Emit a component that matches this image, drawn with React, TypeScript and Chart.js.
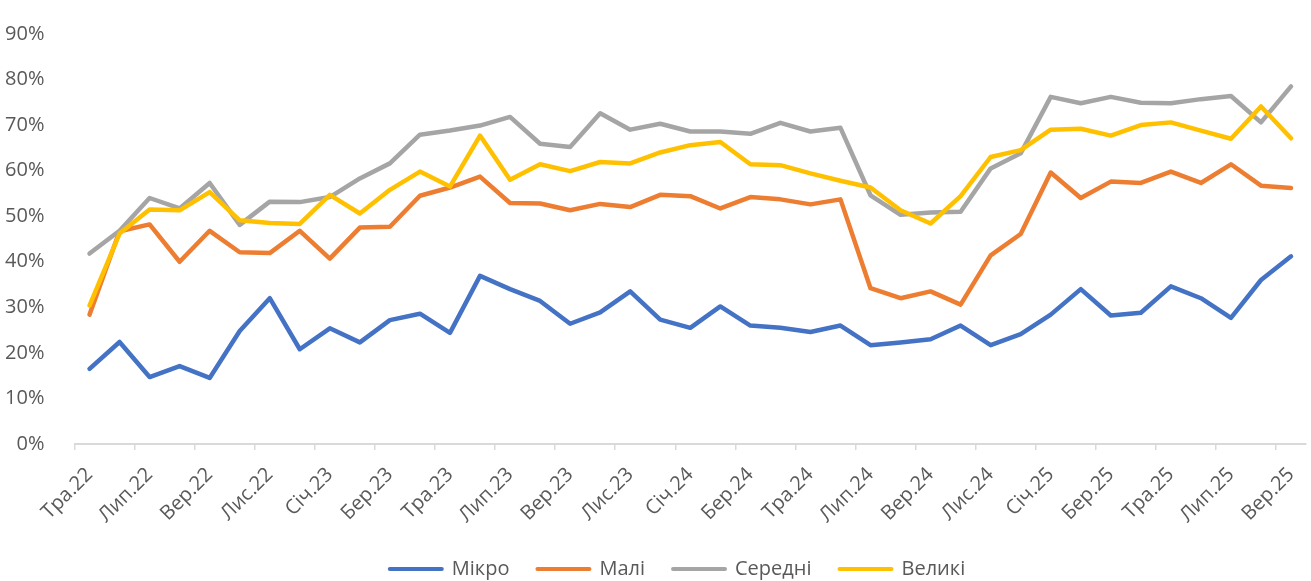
import { useEffect, useRef } from 'react';
import { Chart, registerables } from 'chart.js';

Chart.register(...registerables);

const months = [
  'Тра.22', 'Чер.22', 'Лип.22', 'Сер.22', 'Вер.22', 'Жов.22', 'Лис.22', 'Гру.22',
  'Січ.23', 'Лют.23', 'Бер.23', 'Кві.23', 'Тра.23', 'Чер.23', 'Лип.23', 'Сер.23', 'Вер.23', 'Жов.23', 'Лис.23', 'Гру.23',
  'Січ.24', 'Лют.24', 'Бер.24', 'Кві.24', 'Тра.24', 'Чер.24', 'Лип.24', 'Сер.24', 'Вер.24', 'Жов.24', 'Лис.24', 'Гру.24',
  'Січ.25', 'Лют.25', 'Бер.25', 'Кві.25', 'Тра.25', 'Чер.25', 'Лип.25', 'Сер.25', 'Вер.25',
];

const mikro = [16.5, 22.4, 14.7, 17.1, 14.5, 24.8, 32.0, 20.8, 25.4, 22.3, 27.2, 28.6, 24.4, 36.9, 34.0, 31.4, 26.4, 28.9, 33.5, 27.3, 25.5, 30.2, 26.0, 25.5, 24.6, 26.0, 21.7, 22.3, 23.0, 26.0, 21.7, 24.1, 28.4, 34.0, 28.2, 28.8, 34.6, 32.0, 27.7, 36.0, 41.2];
const mali = [28.4, 46.7, 48.2, 40.0, 46.8, 42.1, 41.9, 46.8, 40.7, 47.5, 47.7, 54.5, 56.3, 58.7, 52.9, 52.8, 51.3, 52.7, 52.0, 54.7, 54.4, 51.7, 54.2, 53.7, 52.6, 53.7, 34.2, 32.0, 33.5, 30.6, 41.4, 46.1, 59.6, 54.0, 57.6, 57.3, 59.8, 57.3, 61.4, 56.7, 56.2];
const seredni = [41.8, 46.8, 54.0, 51.7, 57.3, 48.1, 53.2, 53.1, 54.2, 58.3, 61.6, 67.9, 68.8, 69.9, 71.8, 65.9, 65.2, 72.6, 69.0, 70.3, 68.6, 68.6, 68.1, 70.5, 68.6, 69.4, 54.6, 50.3, 50.8, 51.0, 60.5, 63.8, 76.2, 74.8, 76.2, 74.9, 74.8, 75.7, 76.4, 70.6, 78.5];
const velyki = [30.4, 46.2, 51.5, 51.3, 55.3, 49.1, 48.5, 48.3, 54.7, 50.6, 55.8, 59.8, 56.5, 67.7, 58.0, 61.4, 59.9, 61.9, 61.6, 64.0, 65.6, 66.3, 61.4, 61.2, 59.4, 57.8, 56.3, 51.3, 48.4, 54.4, 63.0, 64.5, 69.0, 69.2, 67.7, 70.0, 70.6, 68.8, 67.0, 74.1, 67.1];

const seriesNames = ['Мікро', 'Малі', 'Середні', 'Великі'];
const seriesColors = ['#4472C4', '#ED7D31', '#A5A5A5', '#FFC000'];
const seriesValues = [mikro, mali, seredni, velyki];

const yMin = 0;
const yMax = 90;
const yStep = 10;

const legendShift = {
  id: 'legendShift',
  afterLayout(chart: any) {
    if (chart.legend) {
      chart.legend.left += 34;
    }
  },
};

export default function App() {
  const ref = useRef<HTMLCanvasElement>(null);

  useEffect(() => {
    Chart.defaults.font.family = "'Open Sans', sans-serif";
    Chart.defaults.font.size = 20;
    Chart.defaults.color = '#595959';

    const chart = new Chart(ref.current as HTMLCanvasElement, {
      type: 'line',
      data: {
        labels: months,
        datasets: seriesNames.map((name, i) => ({
          label: name,
          data: seriesValues[i],
          borderColor: seriesColors[i],
          backgroundColor: seriesColors[i],
          borderWidth: 4.5,
          borderJoinStyle: 'round' as const,
          borderCapStyle: 'round' as const,
          pointRadius: 0,
          pointHoverRadius: 0,
          tension: 0,
          order: seriesNames.length - 1 - i,
        })),
      },
      plugins: [legendShift],
      options: {
        responsive: false,
        animation: false,
        events: [],
        layout: { padding: { left: 0, right: 0, top: 26, bottom: 0 } },
        plugins: {
          tooltip: { enabled: false },
          legend: {
            position: 'bottom',
            labels: {
              usePointStyle: true,
              pointStyle: 'line',
              pointStyleWidth: 52,
              padding: 28,
              color: '#595959',
              font: { size: 20 },
              sort: (a: any, b: any) => a.datasetIndex - b.datasetIndex,
              generateLabels: (c: any) =>
                (Chart.defaults.plugins.legend.labels as any)
                  .generateLabels(c)
                  .map((l: any) => ({ ...l, lineWidth: 4, lineCap: 'round' })),
            },
          },
        },
        scales: {
          x: {
            offset: true,
            grid: {
              display: true,
              drawOnChartArea: false,
              drawTicks: true,
              tickLength: 6,
              offset: true,
              lineWidth: 1.5,
              color: (ctx: any) => (ctx.index % 2 === 0 ? '#D9D9D9' : 'rgba(0,0,0,0)'),
            },
            border: { display: true, color: '#D9D9D9', width: 2 },
            ticks: {
              autoSkip: false,
              maxRotation: 45,
              minRotation: 45,
              padding: 13,
              color: '#595959',
              font: { size: 20 },
              callback: (_v: any, i: number) => (i % 2 === 0 ? months[i] : ''),
            },
            afterFit: (s: any) => {
              s.height = 87;
            },
          },
          y: {
            min: yMin,
            max: yMax,
            grid: { display: false },
            border: { display: false },
            ticks: {
              stepSize: yStep,
              padding: 22,
              color: '#595959',
              font: { size: 20 },
              callback: (v: any) => `${v}%`,
            },
            afterFit: (s: any) => {
              s.width = 74.5;
            },
          },
        },
      },
    });
    return () => chart.destroy();
  }, []);

  return (
    <div style={{ position: 'absolute', left: 0, top: 0, width: 1311, height: 581, overflow: 'hidden', background: '#fff' }}>
      <canvas ref={ref} width={1321} height={589} style={{ display: 'block', width: 1321, height: 589 }} />
    </div>
  );
}
